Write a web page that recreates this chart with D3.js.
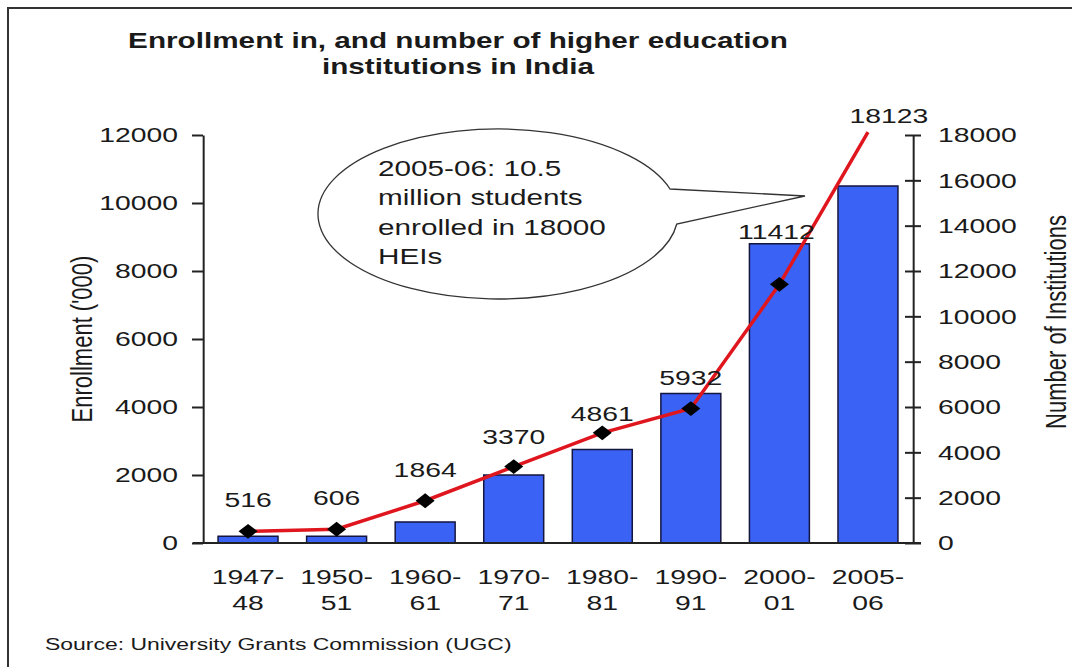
<!DOCTYPE html>
<html><head><meta charset="utf-8">
<script src="https://cdn.jsdelivr.net/npm/d3@7"></script>
<style>
body{margin:0;background:#fff}
svg{display:block}
text{font-family:"Liberation Sans",Arial,Helvetica,sans-serif;fill:#1a1a1a}
</style>
</head><body>
<svg id="chart" width="1072" height="667"></svg>
<script>
// ---- data ----
const categories = ["1947-48","1950-51","1960-61","1970-71","1980-81","1990-91","2000-01","2005-06"];
const enrollment = [200, 200, 620, 2000, 2750, 4400, 8800, 10500];      // ('000), bars, left axis
const institutions = [516, 606, 1864, 3370, 4861, 5932, 11412, 18123];  // line, right axis
const leftTicks = [0, 2000, 4000, 6000, 8000, 10000, 12000];
const rightTicks = [0, 2000, 4000, 6000, 8000, 10000, 12000, 14000, 16000, 18000];
const titleLines = ["Enrollment in, and number of higher education", "institutions in India"];
const calloutLines = ["2005-06: 10.5", "million students", "enrolled in 18000", "HEIs"];
const leftAxisTitle = "Enrollment ('000)";
const rightAxisTitle = "Number of Institutions";
const sourceText = "Source: University Grants Commission (UGC)";

// ---- layout (screen px) ----
const SX = 1.35;                 // horizontal stretch of the original picture
const X = v => v / SX;           // screen x -> inner x
const plotLeft = 203, plotRight = 913, plotTop = 135, plotBottom = 543;
const labelLift = [24, 24, 24, 23, 12, 24, 45, 9];
const labelShift = [0, 0, 0, 0, 0, 0, -3, 21];

const svg = d3.select("#chart");
const g = svg.append("g").attr("transform", `scale(${SX},1)`);

// frame (left and top edges visible in the picture)
svg.append("path").attr("d", "M8,667 L8,8 L1072,8")
  .attr("fill", "none").attr("stroke", "#333").attr("stroke-width", 2);

const x = d3.scaleBand().domain(categories).range([X(plotLeft), X(plotRight)])
  .paddingInner(0.323).paddingOuter(0.17);
const yL = d3.scaleLinear().domain([0, 12000]).range([plotBottom, plotTop]);
const yR = d3.scaleLinear().domain([0, 18000]).range([plotBottom, plotTop]);

// title
g.append("g").selectAll("text").data(titleLines).join("text")
  .attr("x", X(458)).attr("y", (d, i) => 48 + i * 26)
  .attr("text-anchor", "middle").attr("font-size", 22).attr("font-weight", "bold")
  .text(d => d);

// callout
(function () {
  const cx = 498, cy = 214, rx = 180, ry = 85;
  const ya = 189, yb = 224;
  const xa = cx + rx * Math.sqrt(1 - ((ya - cy) / ry) ** 2);
  const xb = cx + rx * Math.sqrt(1 - ((yb - cy) / ry) ** 2);
  const tip = [805, 196];
  const p = `M${X(xa)},${ya} L${X(tip[0])},${tip[1]} L${X(xb)},${yb} A${X(rx)},${ry} 0 1 1 ${X(xa)},${ya} Z`;
  g.append("path").attr("d", p).attr("fill", "#fff").attr("stroke", "#333")
    .attr("stroke-width", 1.3).attr("vector-effect", "non-scaling-stroke");
  g.append("g").selectAll("text").data(calloutLines).join("text")
    .attr("x", X(378)).attr("y", (d, i) => 176 + i * 29.5)
    .attr("font-size", 22).text(d => d);
})();

// bars
g.append("g").selectAll("rect").data(enrollment).join("rect")
  .attr("x", (d, i) => x(categories[i]))
  .attr("width", x.bandwidth())
  .attr("y", d => yL(d))
  .attr("height", d => yL(0) - yL(d))
  .attr("fill", "#3a62f5").attr("stroke", "#15163f").attr("stroke-width", 1.5)
  .attr("vector-effect", "non-scaling-stroke");

// left axis
const axL = g.append("g").attr("transform", `translate(${X(plotLeft)},0)`)
  .call(d3.axisLeft(yL).tickValues(leftTicks).tickFormat(d3.format("d"))
    .tickSize(X(11)).tickSizeOuter(0).tickPadding(X(14)));
axL.selectAll("text").attr("font-size", 21).attr("fill", "#1a1a1a").attr("font-family", null);
// right axis
const axR = g.append("g").attr("transform", `translate(${X(plotRight)},0)`)
  .call(d3.axisRight(yR).tickValues(rightTicks).tickFormat(d3.format("d"))
    .tickSize(X(8)).tickSizeOuter(0).tickPadding(X(17)));
axR.selectAll(".tick line").attr("x1", X(-8));
axR.selectAll("text").attr("font-size", 21).attr("fill", "#1a1a1a").attr("font-family", null);
[axL, axR].forEach(a => {
  a.selectAll("path,line").attr("stroke", "#222").attr("stroke-width", 2)
    .attr("vector-effect", "non-scaling-stroke");
  a.attr("font-family", null);
});
// baseline
g.append("line").attr("x1", X(193)).attr("x2", X(921)).attr("y1", yL(0)).attr("y2", yL(0))
  .attr("stroke", "#222").attr("stroke-width", 2).attr("vector-effect", "non-scaling-stroke");

// category labels (two lines)
const cat = g.append("g").selectAll("text").data(categories).join("text")
  .attr("x", d => x(d) + x.bandwidth() / 2).attr("y", 584)
  .attr("text-anchor", "middle").attr("font-size", 21);
cat.append("tspan").attr("x", d => x(d) + x.bandwidth() / 2).text(d => d.split("-")[0] + "-");
cat.append("tspan").attr("x", d => x(d) + x.bandwidth() / 2).attr("dy", 26).text(d => d.split("-")[1]);

// line
const cxp = (d, i) => x(categories[i]) + x.bandwidth() / 2;
g.append("path").datum(institutions)
  .attr("d", d3.line().x(cxp).y(d => yR(d)))
  .attr("fill", "none").attr("stroke", "#e0161e").attr("stroke-width", 3.5)
  .attr("vector-effect", "non-scaling-stroke");

// diamond markers (points beyond the axis maximum are clipped, as in the original)
const diamond = d3.symbol().type(d3.symbolSquare).size(110);
g.append("g").selectAll("path").data(institutions.map((v, i) => [v, i]).filter(d => d[0] <= yR.domain()[1]))
  .join("path")
  .attr("d", diamond)
  .attr("transform", d => `translate(${cxp(d[0], d[1])},${yR(d[0])}) scale(0.95,1) rotate(45)`)
  .attr("fill", "#000");

// value labels
g.append("g").selectAll("text").data(institutions).join("text")
  .attr("x", (d, i) => cxp(d, i) + X(labelShift[i]))
  .attr("y", (d, i) => yR(d) - labelLift[i])
  .attr("text-anchor", "middle").attr("font-size", 21)
  .text(d => d);

// axis titles
g.append("text").attr("transform", `translate(${X(92)},339) rotate(-90)`)
  .attr("text-anchor", "middle").attr("font-size", 22).text(leftAxisTitle);
g.append("text").attr("transform", `translate(${X(1066)},322) rotate(-90)`)
  .attr("text-anchor", "middle").attr("font-size", 22).text(rightAxisTitle);

// source
g.append("text").attr("x", X(45)).attr("y", 650).attr("font-size", 17).text(sourceText);
</script>
</body></html>
